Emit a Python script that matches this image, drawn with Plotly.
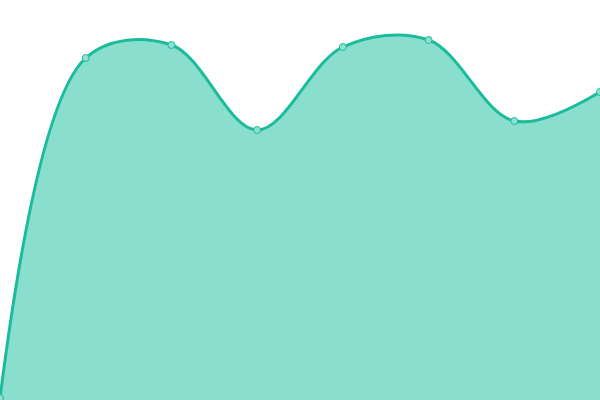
import plotly.graph_objects as go

labels = [0, 1, 2, 3, 4, 5, 6, 7]
values = [2, 342, 355, 270, 353, 360, 279, 308]

fig = go.Figure()
fig.add_trace(go.Scatter(
    x=labels, y=values,
    mode='lines+markers',
    fill='tozeroy',
    fillcolor='rgba(22, 190, 156, 0.5)',
    line=dict(color='#1abc9c', width=3, shape='spline', smoothing=1.0),
    marker=dict(size=7, color='#8fe0cf', line=dict(color='#1abc9c', width=1)),
    cliponaxis=False,
))

fig.update_layout(
    width=600, height=400,
    margin=dict(l=0, r=0, t=0, b=0),
    paper_bgcolor='white', plot_bgcolor='white',
    showlegend=False,
    xaxis=dict(range=[0, 7], visible=False),
    yaxis=dict(range=[0, 400], visible=False),
)

fig.write_html(
    "out.html",
    config={'displayModeBar': False},
    post_script="document.body.style.margin='0';document.body.style.overflow='hidden';",
)
